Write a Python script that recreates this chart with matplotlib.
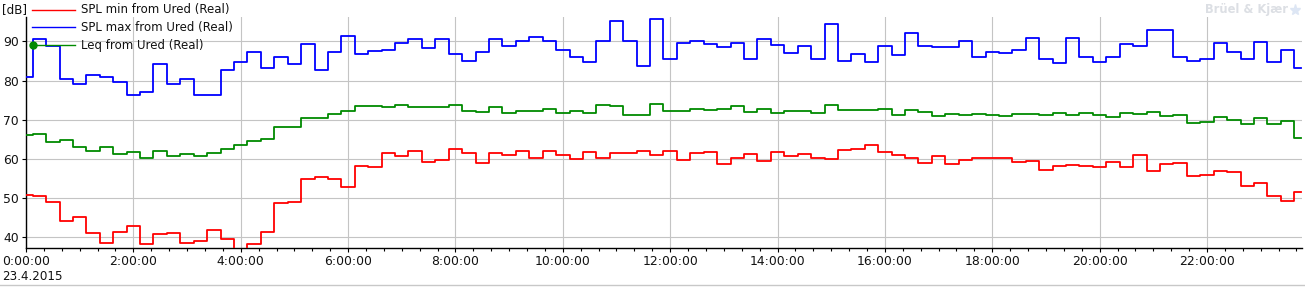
import numpy as np
import matplotlib.pyplot as plt
from matplotlib.lines import Line2D

# 15-minute values over one day (23.4.2015), hours from midnight
hours = np.arange(96) * 0.25

spl_min = [50.8, 50.5, 49.1, 44.1, 45.3, 41.0, 38.7, 41.3, 43.0, 38.2, 40.8, 41.0,
           38.7, 39.0, 42.0, 39.5, 36.5, 38.2, 41.3, 48.9, 49.1, 54.9, 55.4, 54.9,
           52.9, 58.2, 58.0, 61.5, 60.8, 62.0, 59.2, 59.7, 62.5, 61.5, 59.0, 61.5,
           61.0, 62.0, 60.3, 62.0, 61.0, 60.0, 61.8, 60.3, 61.5, 61.5, 62.0, 61.0,
           62.0, 59.7, 61.5, 61.8, 58.7, 60.3, 61.3, 59.5, 61.8, 60.8, 61.3, 60.3,
           60.0, 62.3, 62.5, 63.5, 61.8, 61.0, 60.3, 59.0, 60.8, 58.7, 59.7, 60.3,
           60.3, 60.3, 59.2, 59.5, 57.2, 58.2, 58.5, 58.2, 58.0, 59.2, 58.0, 61.0,
           57.0, 58.7, 59.0, 55.7, 55.9, 57.0, 56.7, 53.2, 53.9, 50.6, 49.4, 51.6]

spl_max = [80.9, 90.5, 88.8, 80.5, 79.0, 81.5, 80.8, 79.5, 76.2, 77.0, 84.1, 79.2,
           80.3, 76.2, 76.2, 82.8, 84.6, 87.2, 83.1, 85.9, 84.2, 89.2, 82.6, 87.3,
           91.4, 86.7, 87.5, 87.9, 89.5, 90.5, 88.2, 90.5, 86.7, 84.9, 87.2, 90.5,
           88.7, 90.2, 91.0, 90.0, 87.7, 86.1, 84.6, 90.2, 95.2, 90.0, 83.6, 95.6,
           85.6, 89.5, 90.0, 89.2, 88.5, 89.5, 85.6, 90.5, 89.0, 86.9, 88.7, 85.4,
           94.4, 84.9, 86.7, 84.6, 88.7, 86.4, 92.0, 88.7, 88.5, 88.5, 90.2, 86.1,
           87.2, 86.9, 87.9, 90.8, 85.4, 84.4, 90.8, 85.9, 84.6, 86.1, 89.2, 88.7,
           92.8, 92.8, 86.1, 84.9, 85.6, 89.5, 87.2, 85.4, 89.7, 84.6, 87.9, 83.1]

leq = [66.0, 66.4, 64.4, 64.9, 63.1, 62.0, 63.1, 61.3, 61.8, 60.3, 62.0, 60.8,
       61.3, 60.8, 61.5, 62.6, 63.6, 64.6, 65.1, 68.2, 68.2, 70.5, 70.5, 71.5,
       72.3, 73.4, 73.4, 73.2, 73.8, 73.2, 73.2, 73.2, 73.7, 72.3, 72.0, 73.2,
       71.8, 72.3, 72.3, 72.8, 71.8, 72.3, 71.8, 73.7, 73.4, 71.1, 71.1, 74.1,
       72.3, 72.3, 72.8, 72.6, 72.8, 73.4, 72.0, 72.8, 71.8, 72.3, 72.3, 71.8,
       73.8, 72.6, 72.6, 72.6, 72.8, 71.3, 72.6, 72.0, 71.0, 71.5, 71.3, 71.5,
       71.3, 71.0, 71.5, 71.5, 71.3, 71.8, 71.3, 71.8, 71.3, 70.8, 71.8, 71.5,
       72.0, 71.0, 71.3, 69.2, 69.5, 70.8, 70.0, 69.0, 70.5, 68.8, 69.7, 65.4]

series_names = ['SPL min from Ured (Real)', 'SPL max from Ured (Real)', 'Leq from Ured (Real)']
series_colors = ['#ff0000', '#0000ff', '#008a00']
y_ticks = [40, 50, 60, 70, 80, 90]
x_major = list(range(0, 24, 2))
x_labels = [f'{h}:00:00' for h in x_major]
date_label = '23.4.2015'

W, H = 1305, 287
fig = plt.figure(figsize=(W / 100, H / 100), dpi=100)
plt.rcParams['font.family'] = ['DejaVu Sans']

# plot area in pixels: x 26..1302, y 17..248
ax = fig.add_axes([26 / W, (H - 248) / H, (1302 - 26) / W, (248 - 17) / H])

for vals, col in zip([spl_min, spl_max, leq], series_colors):
    ax.step(hours, vals, where='mid', color=col, lw=1.3, zorder=3)

ax.set_xlim(0, 23.77)
ax.set_ylim(37.3, 96.2)

ax.set_yticks(y_ticks)
ax.set_yticklabels([str(v) for v in y_ticks])
ax.set_xticks(x_major)
ax.set_xticklabels(x_labels)
ax.set_xticks(np.arange(0, 23.8, 1 / 3), minor=True)

ax.grid(True, which='major', color='#c4c4c4', lw=0.8)
ax.tick_params(axis='both', which='major', labelsize=8.9, colors='black',
               length=3, width=0.8, pad=2, labelcolor='#111111')
ax.tick_params(axis='x', which='minor', length=2, width=0.8, color='black')
ax.tick_params(axis='y', which='minor', length=0)

for s in ['top', 'right']:
    ax.spines[s].set_visible(False)
for s in ['left', 'bottom']:
    ax.spines[s].set_color('black')
    ax.spines[s].set_linewidth(1.0)

# unit label and legend drawn at the top left, like the analyzer screen
fig.text(2 / W, 1 - 10 / H, '[dB]', fontsize=8.6, va='center', ha='left', color='#111111')
leg_y = [10, 27, 45]
for name, col, yy in zip(series_names, series_colors, leg_y):
    fig.add_artist(Line2D([32 / W, 75 / W], [1 - yy / H, 1 - yy / H],
                          color=col, lw=1.0, zorder=5))
    fig.text(81 / W, 1 - yy / H, name, fontsize=8.5, va='center', ha='left',
             color='#111111', zorder=6)
fig.add_artist(Line2D([33 / W], [1 - 45 / H], marker='o', markersize=5,
                      color='#008a00', zorder=6))

# date under the time axis
fig.text(2 / W, 1 - 277 / H, date_label, fontsize=8.6, va='center', ha='left', color='#111111')

# faint vendor mark top right
fig.text(1288 / W, 1 - 10 / H, 'Brüel & Kjær', fontsize=8.3, fontweight='bold',
         va='center', ha='right', color='#dcdfe4')
fig.add_artist(Line2D([1295 / W], [1 - 10 / H], marker='*', markersize=8,
                      color='#dde6f4', zorder=2))

# window border at the bottom
fig.add_artist(Line2D([0, 1], [1 - 285 / H, 1 - 285 / H], color='#c8c8c8', lw=1.0))

fig.savefig('out.png', dpi=100)
